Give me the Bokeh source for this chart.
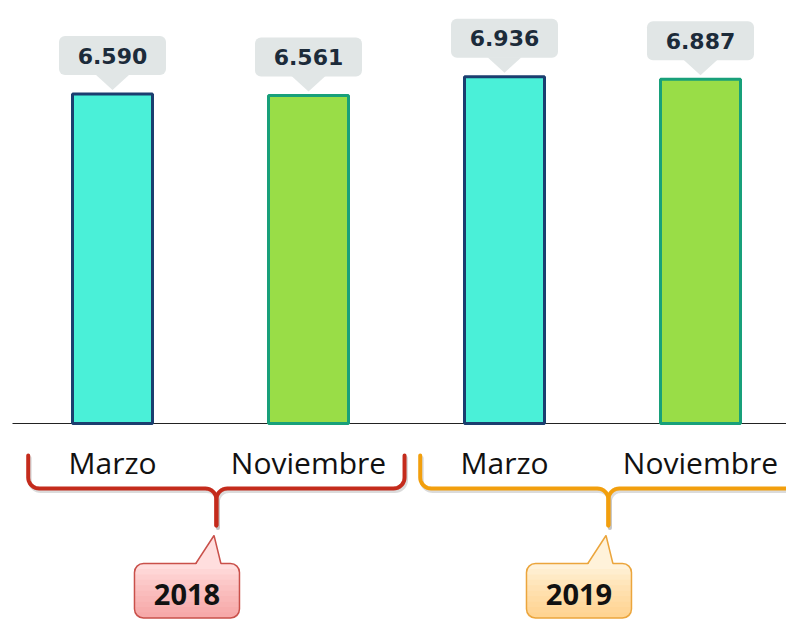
import numpy as np
from bokeh.plotting import figure
from bokeh.models import Range1d
from bokeh.core.properties import value
from bokeh.embed import file_html
from bokeh.resources import INLINE

# ---------------- data ----------------
categories = ["Marzo", "Noviembre", "Marzo", "Noviembre"]
values = [6.590, 6.561, 6.936, 6.887]
value_labels = ["6.590", "6.561", "6.936", "6.887"]
years = ["2018", "2019"]
year_of_bar = [0, 0, 1, 1]

# ---------------- styling ----------------
bar_fill = ["#4AF0D8", "#99DD47", "#4AF0D8", "#99DD47"]
bar_line = ["#1B3E6F", "#18A07A", "#1B3E6F", "#18A07A"]
brace_color = ["#C42B1C", "#F29F0D"]
ybox_top = ["#FFDEDE", "#FFF2DA"]
ybox_shade = ["#EE7C7C", "#FFC04C"]
ybox_line = ["#C9504A", "#EBA53C"]

W, H = 786, 619
PXX = 196.0   # pixels per x unit
PXY = 50.0    # pixels per y unit
xs0 = -112 / PXX
xs1 = xs0 + W / PXX
ys1 = 423 / PXY
ys0 = ys1 - H / PXY

p = figure(width=W, height=H, x_range=Range1d(xs0, xs1), y_range=Range1d(ys0, ys1),
           output_backend="svg", toolbar_location=None, min_border=0,
           x_axis_type=None, y_axis_type=None)
p.grid.visible = False
p.outline_line_color = None
p.background_fill_color = "white"
p.border_fill_color = "white"

xs = list(range(len(values)))

# baseline
p.segment(x0=[xs0 + 12 / PXX], y0=[0], x1=[xs1], y1=[0], line_color="#222222", line_width=1.2)

# bars
p.vbar(x=xs, top=values, bottom=0, width=80 / PXX, fill_color=bar_fill,
       line_color=bar_line, line_width=3)

# value callouts
cb = [v + 19 / PXY for v in values]
ct = [b + 39 / PXY for b in cb]
hw = 53.5 / PXX
p.quad(left=[x - hw for x in xs], right=[x + hw for x in xs], bottom=cb, top=ct,
       fill_color="#E1E6E6", line_color=None, border_radius=6)
tri_x = [[x - 17 / PXX, x + 17 / PXX, x] for x in xs]
tri_y = [[b + 0.5 / PXY, b + 0.5 / PXY, v + 4 / PXY] for b, v in zip(cb, values)]
p.patches(tri_x, tri_y, fill_color="#E1E6E6", line_color=None)
p.text(x=xs, y=[(b + t) / 2 for b, t in zip(cb, ct)], text=value_labels,
       text_font=value("DejaVu Sans"), text_font_style="bold", text_font_size="22px",
       text_color="#1C2B3A", text_align="center", text_baseline="middle")

# category labels
p.text(x=xs, y=[-39 / PXY] * len(xs), text=categories, text_font=value("Open Sans"),
       text_font_size="30px", text_color="#111111", text_align="center",
       text_baseline="middle")

# braces + year callouts
def brace_half(cx, half_w, sign):
    r = 11.0
    top, hor, tip = -32.0, -65.0, -102.0
    px, py = [-half_w, -half_w], [top, hor + r]
    a = np.linspace(np.pi, 1.5 * np.pi, 10)
    px += list(-half_w + r + r * np.cos(a)); py += list(hor + r + r * np.sin(a))
    px += [-r]; py += [hor]
    a = np.linspace(0.5 * np.pi, 0, 10)
    px += list(-r + r * np.cos(a)); py += list(hor - r + r * np.sin(a))
    px += [0]; py += [tip]
    return [cx + sign * x / PXX for x in px], [y / PXY for y in py]

for g, yr in enumerate(years):
    idx = [i for i, yy in enumerate(year_of_bar) if yy == g]
    gc = float(np.mean(idx)) + 0.03
    half_w = 0.96 * PXX
    bxs, bys = [], []
    for s in (-1, 1):
        bx, by = brace_half(gc, half_w, s)
        bxs.append(bx); bys.append(by)
    p.multi_line([[x + 1.5 / PXX for x in bx] for bx in bxs],
                 [[y - 2.5 / PXY for y in by] for by in bys],
                 line_color="#999999", line_alpha=0.35, line_width=4, line_cap="round", line_join="round")
    p.multi_line(bxs, bys, line_color=brace_color[g], line_width=4,
                 line_cap="round", line_join="round")

    bc = gc - 0.15
    bhw = 52.5 / PXX
    btop = -2.80
    bbot = -3.89
    # box base fill
    p.quad(left=[bc - bhw], right=[bc + bhw], top=[btop], bottom=[bbot],
           fill_color=ybox_top[g], line_color=None, border_radius=9)
    # vertical gradient via stacked translucent bands
    nb = 9
    band_tops = [btop - (k + 1) * (btop - bbot) / (nb + 1) for k in range(nb)]
    p.quad(left=[bc - bhw] * nb, right=[bc + bhw] * nb, top=band_tops, bottom=[bbot] * nb,
           fill_color=ybox_shade[g], fill_alpha=0.075, line_color=None,
           border_radius=(0, 0, 9, 9))
    # outline
    p.quad(left=[bc - bhw], right=[bc + bhw], top=[btop], bottom=[bbot],
           fill_color=None, line_color=ybox_line[g], line_width=1.5, border_radius=9)
    tx = [gc - 0.105, gc + 0.023, gc - 0.012]
    ty = [btop - 1.5 / PXY, btop - 1.5 / PXY, -2.24]
    p.patch(tx, ty, fill_color=ybox_top[g], line_color=None)
    p.line([tx[0], tx[2], tx[1]], [btop, ty[2], btop], line_color=ybox_line[g], line_width=1.5)
    p.text(x=[bc], y=[-3.41], text=[yr], text_font=value("Open Sans"), text_font_style="bold",
           text_font_size="29px", text_color="#111111", text_align="center",
           text_baseline="middle")

open("out.html", "w").write(file_html(p, INLINE))
